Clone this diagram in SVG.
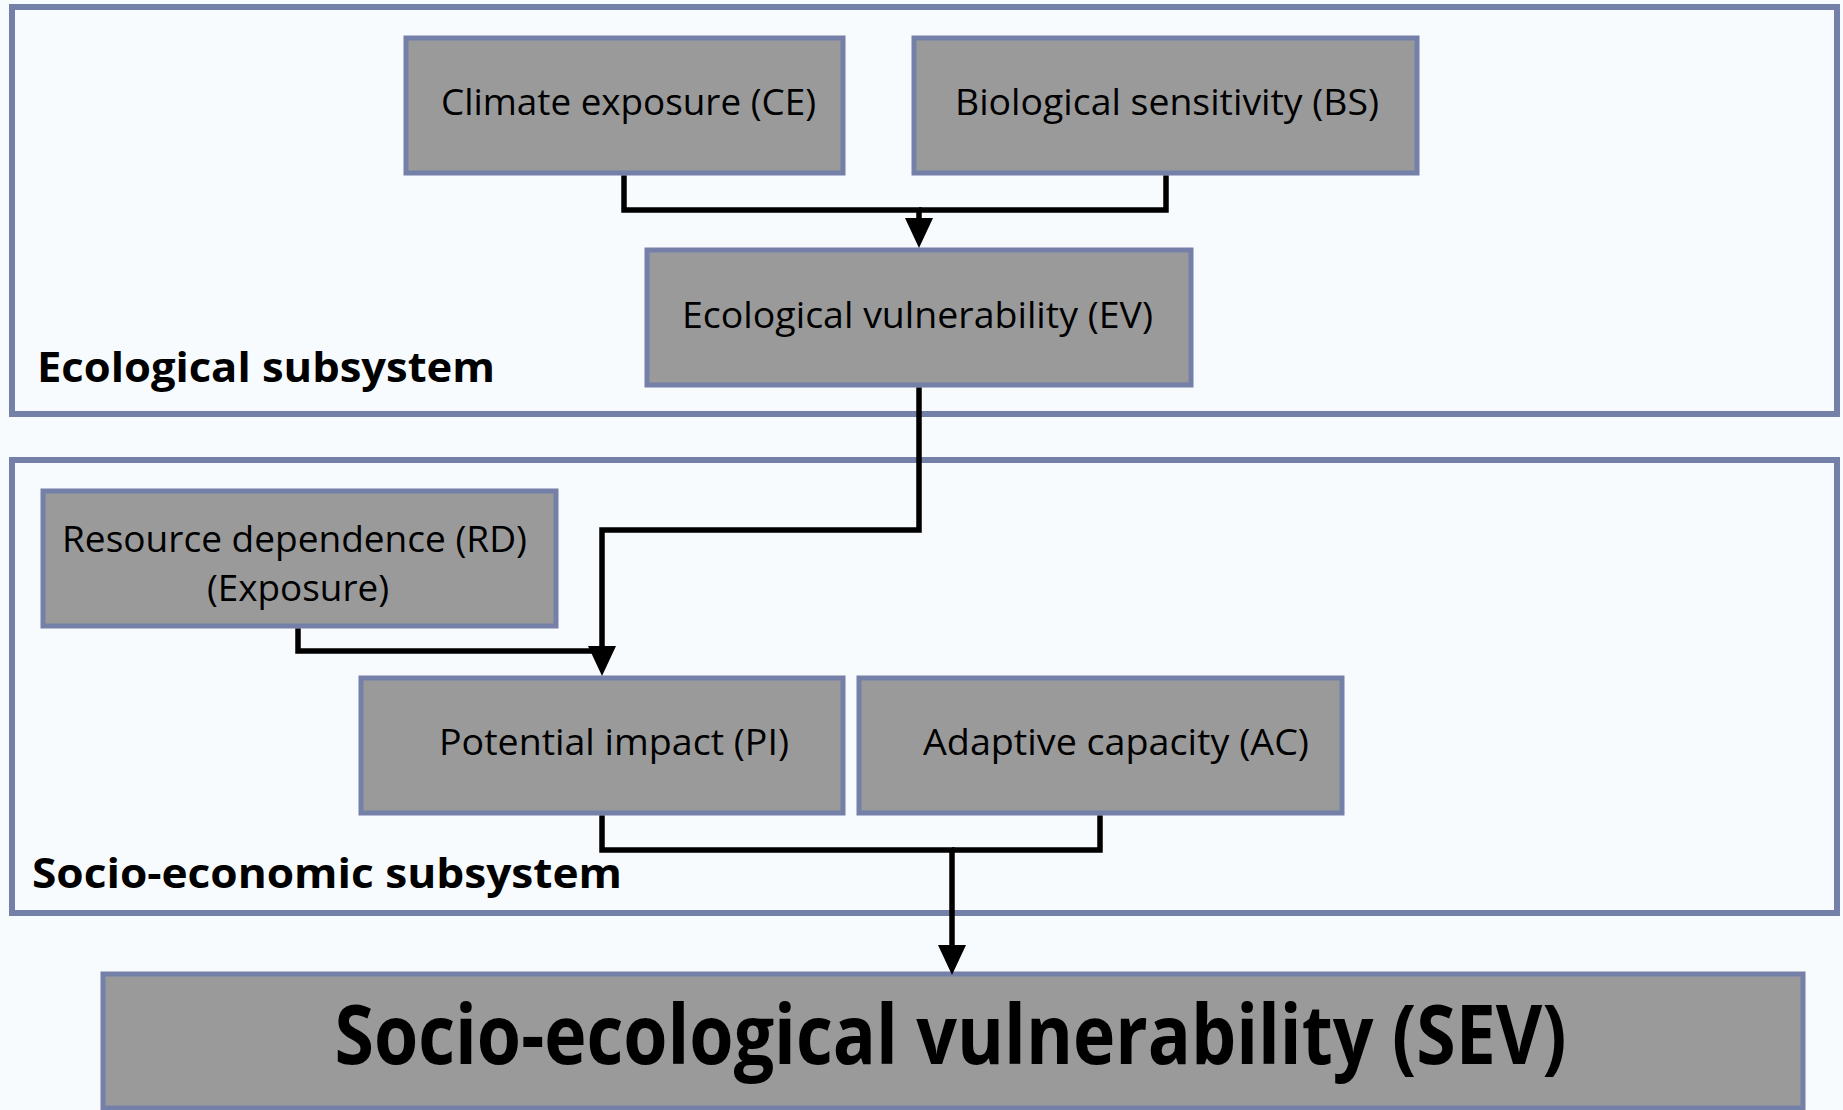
<svg xmlns="http://www.w3.org/2000/svg" width="1843" height="1110" viewBox="0 0 1843 1110">
  <style>
    .frame { fill: #f8fbfd; stroke: #7580a9; stroke-width: 6; }
    .node rect { fill: #9a9a9a; stroke: #7580a9; stroke-width: 5; }
    .t { font-family: "Open Sans", "Noto Sans", sans-serif; font-size: 37px; fill: #000; text-anchor: middle; }
    .lbl { font-family: "Open Sans", "Noto Sans", sans-serif; font-size: 42px; font-weight: bold; fill: #000; }
    .big { font-family: "Open Sans", "Noto Sans", sans-serif; font-size: 82px; font-weight: bold; fill: #000; text-anchor: middle; }
    .conn path { fill: none; stroke: #000; stroke-width: 5.5; stroke-linejoin: miter; stroke-linecap: butt; }
  </style>
  <defs>
    <marker id="arr" markerUnits="userSpaceOnUse" markerWidth="30" markerHeight="28" refX="0" refY="14" orient="auto" overflow="visible">
      <path d="M0,0 L30,14 L0,28 z" fill="#000"/>
    </marker>
  </defs>
  <rect x="0" y="0" width="1843" height="1110" fill="#f8fbfd"/>

  <g id="ecological-subsystem">
    <rect class="frame" x="12" y="7" width="1825" height="407"/>
    <text class="lbl" x="37" y="382" textLength="458" lengthAdjust="spacingAndGlyphs">Ecological subsystem</text>
  </g>
  <g id="socio-economic-subsystem">
    <rect class="frame" x="12" y="460" width="1825" height="453"/>
    <text class="lbl" x="32" y="888" textLength="590" lengthAdjust="spacingAndGlyphs">Socio-economic subsystem</text>
  </g>

  <g id="CE" class="node">
    <rect x="406" y="38" width="437" height="135"/>
    <text class="t" x="628.5" y="115" textLength="375" lengthAdjust="spacingAndGlyphs">Climate exposure (CE)</text>
  </g>
  <g id="BS" class="node">
    <rect x="914" y="38" width="503" height="135"/>
    <text class="t" x="1167" y="115" textLength="424" lengthAdjust="spacingAndGlyphs">Biological sensitivity (BS)</text>
  </g>
  <g id="EV" class="node">
    <rect x="647" y="250" width="544" height="135"/>
    <text class="t" x="917.5" y="328" textLength="471" lengthAdjust="spacingAndGlyphs">Ecological vulnerability (EV)</text>
  </g>
  <g id="RD" class="node">
    <rect x="43" y="491" width="513" height="135"/>
    <text class="t" x="294.5" y="552" textLength="465" lengthAdjust="spacingAndGlyphs">Resource dependence (RD)</text>
    <text class="t" x="298" y="601" textLength="182" lengthAdjust="spacingAndGlyphs">(Exposure)</text>
  </g>
  <g id="PI" class="node">
    <rect x="361" y="678" width="482" height="135"/>
    <text class="t" x="614" y="755" textLength="350" lengthAdjust="spacingAndGlyphs">Potential impact (PI)</text>
  </g>
  <g id="AC" class="node">
    <rect x="859" y="678" width="483" height="135"/>
    <text class="t" x="1116" y="755" textLength="386" lengthAdjust="spacingAndGlyphs">Adaptive capacity (AC)</text>
  </g>
  <g id="SEV" class="node">
    <rect x="103" y="974" width="1700" height="134"/>
    <text class="big" x="950.5" y="1064" textLength="1232" lengthAdjust="spacingAndGlyphs">Socio-ecological vulnerability (SEV)</text>
  </g>

  <g id="connectors" class="conn">
    <path d="M624,175.5 V210 H919 V218" marker-end="url(#arr)"/>
    <path d="M1166,175.5 V210 H919"/>
    <path d="M919,387.5 V530 H602 V646" marker-end="url(#arr)"/>
    <path d="M298,628.5 V651 H602"/>
    <path d="M602,815.5 V850 H952 V945" marker-end="url(#arr)"/>
    <path d="M1100,815.5 V850 H952"/>
  </g>
</svg>
